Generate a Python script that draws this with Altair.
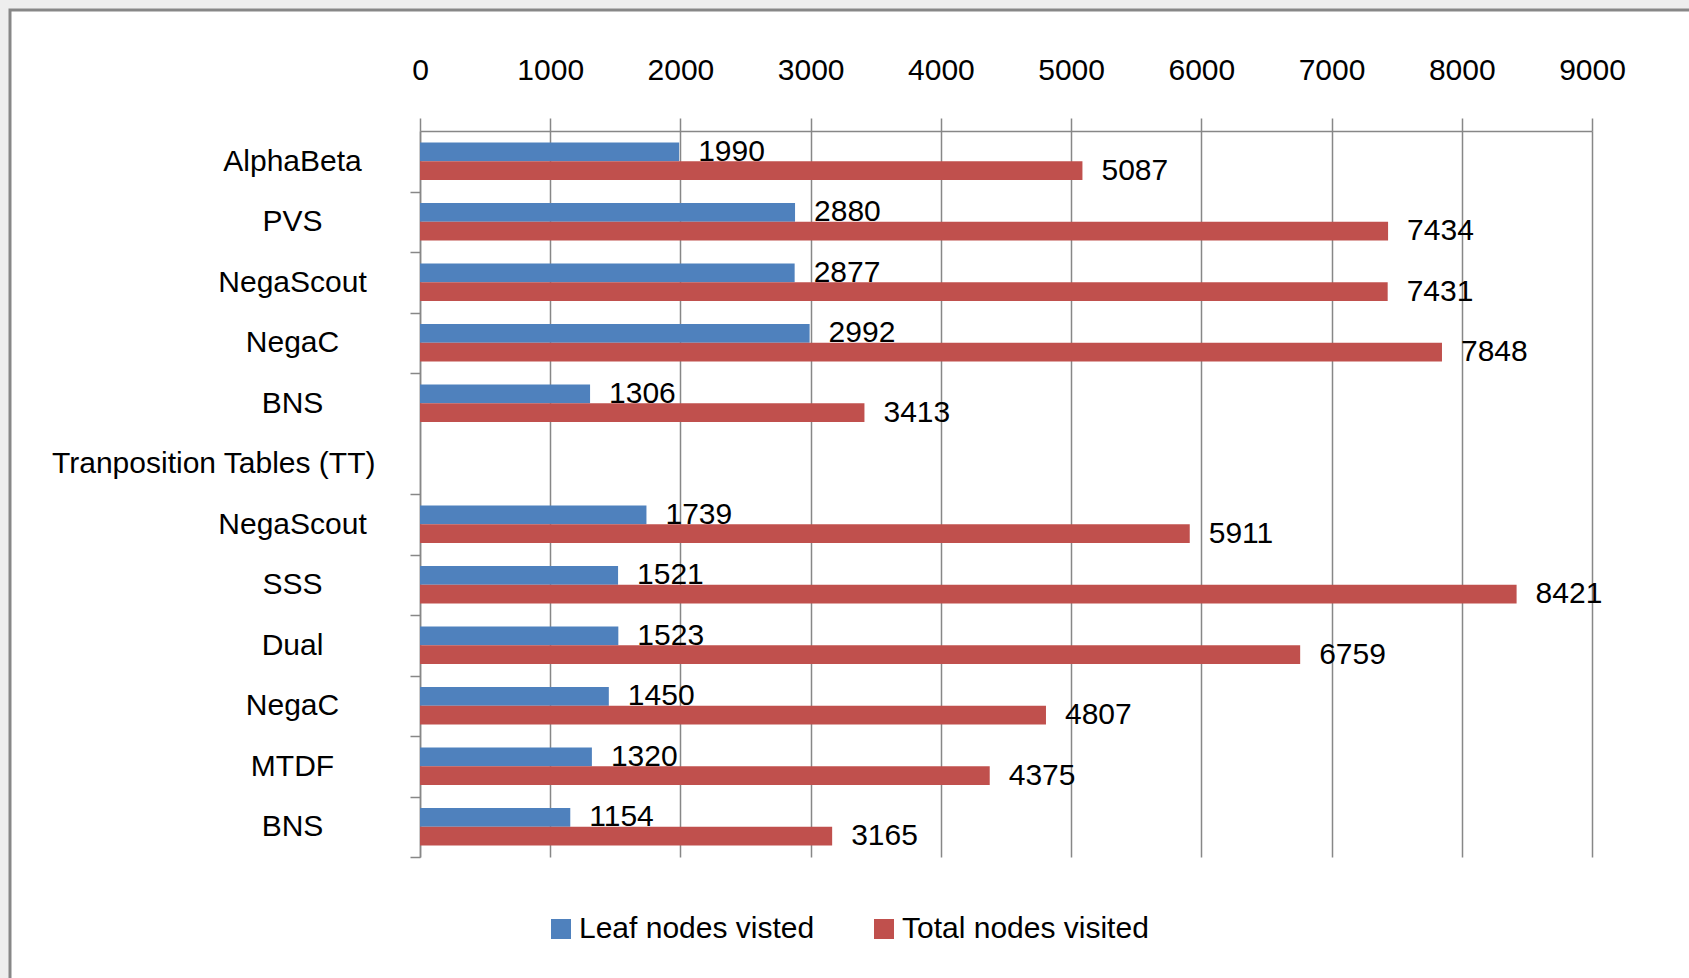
import altair as alt
import pandas as pd

categories = ["AlphaBeta", "PVS", "NegaScout", "NegaC", "BNS",
              "Tranposition Tables (TT)",
              "NegaScout", "SSS", "Dual", "NegaC", "MTDF", "BNS"]
leaf_nodes = [1990, 2880, 2877, 2992, 1306, None, 1739, 1521, 1523, 1450, 1320, 1154]
total_nodes = [5087, 7434, 7431, 7848, 3413, None, 5911, 8421, 6759, 4807, 4375, 3165]
series_names = ["Leaf nodes visted", "Total nodes visited"]
series_colors = ["#4F81BD", "#C0504D"]
x_ticks = [0, 1000, 2000, 3000, 4000, 5000, 6000, 7000, 8000, 9000]

FONT = "Liberation Sans"
GRAY = "#878787"
PLOT_W, PLOT_H = 1172, 726
PAD_INNER = 0.38

keys = [f"c{i}" for i in range(len(categories))]
rows = []
for k, l, t in zip(keys, leaf_nodes, total_nodes):
    if l is not None:
        rows.append({"key": k, "series": series_names[0], "value": l})
    if t is not None:
        rows.append({"key": k, "series": series_names[1], "value": t})
df = pd.DataFrame(rows)

gap_idx = [i for i, l in enumerate(leaf_nodes) if l is None][0]
gap_key = keys[gap_idx]
before_gap_key = keys[gap_idx - 1]
label_expr = " : ".join(f"datum.value == '{k}' ? '{c}'" for k, c in zip(keys, categories)) + " : ''"
gap_test = f"datum.value == '{gap_key}'"
hide_tick_test = f"datum.value == '{before_gap_key}'"

# ticks sit on the boundaries between categories (band end + half the inner padding)
step = PLOT_H / len(keys)
half_gap = step * PAD_INNER / 2

x_enc = alt.X(
    "value:Q",
    scale=alt.Scale(domain=[0, 9000], nice=False, zero=True),
    axis=alt.Axis(
        orient="top", values=x_ticks, format="d", title=None,
        labelFont=FONT, labelFontSize=30, labelColor="black",
        labelPadding=48, labelBaseline="middle", labelFlush=False, labelOverlap=False,
        tickSize=13, tickColor=GRAY, tickWidth=1.5,
        domainColor=GRAY, domainWidth=1.5,
        grid=True, gridColor=GRAY, gridWidth=1.5, gridOpacity=1,
    ),
)
y_enc = alt.Y(
    "key:N",
    scale=alt.Scale(domain=keys, paddingInner=PAD_INNER, paddingOuter=PAD_INNER / 2),
    axis=alt.Axis(
        title=None, labelExpr=label_expr,
        labelAlign={"condition": {"test": gap_test, "value": "right"}, "value": "center"},
        labelPadding={"condition": {"test": gap_test, "value": 35}, "value": 118},
        labelBaseline="middle", labelFont=FONT, labelFontSize=30, labelColor="black",
        labelLimit=500, labelOverlap=False,
        bandPosition=1, tickOffset=half_gap, labelOffset=-half_gap,
        tickSize=10, tickColor=GRAY, tickWidth=1.5,
        tickOpacity={"condition": {"test": hide_tick_test, "value": 0}, "value": 1},
        domainColor=GRAY, domainWidth=1.5, grid=False,
    ),
)
yoff_enc = alt.YOffset(
    "series:N", sort=series_names,
    scale=alt.Scale(domain=series_names, paddingInner=0, paddingOuter=0),
)

base = alt.Chart(df)

bars = base.mark_bar().encode(
    x=x_enc,
    y=y_enc,
    yOffset=yoff_enc,
    color=alt.Color(
        "series:N",
        scale=alt.Scale(domain=series_names, range=series_colors),
        legend=alt.Legend(
            title=None, orient="none", legendX=126, legendY=783,
            direction="horizontal", columns=2,
            symbolType="square", symbolSize=400, symbolStrokeWidth=0, symbolOpacity=1,
            labelFont=FONT, labelFontSize=30, labelColor="black",
            labelOffset=3, columnPadding=54, padding=0, labelLimit=500,
        ),
    ),
)

labels = base.mark_text(
    align="left", baseline="middle", dx=19, font=FONT, fontSize=30, color="black"
).encode(
    x=x_enc,
    y=y_enc,
    yOffset=yoff_enc,
    text=alt.Text("value:Q", format="d"),
)

frame_data = pd.DataFrame({"frame": [0]})
outer_band = alt.Chart(frame_data).mark_rect(
    fillOpacity=0, stroke="#eeeeee", strokeWidth=9
).encode(
    x=alt.value(-415.5), x2=alt.value(1300), y=alt.value(-126.5), y2=alt.value(880)
)
border = alt.Chart(frame_data).mark_rect(
    fillOpacity=0, stroke=GRAY, strokeWidth=3
).encode(
    x=alt.value(-410), x2=alt.value(1300), y=alt.value(-121), y2=alt.value(880)
)

chart = alt.layer(outer_band, border, bars, labels).properties(
    width=PLOT_W,
    height=PLOT_H,
    padding={"left": 420, "top": 131, "right": 97, "bottom": 121},
    autosize=alt.AutoSizeParams(type="none"),
    background="white",
).configure_view(stroke=None)

chart.save("out.html", embed_options={"renderer": "svg", "actions": False})
